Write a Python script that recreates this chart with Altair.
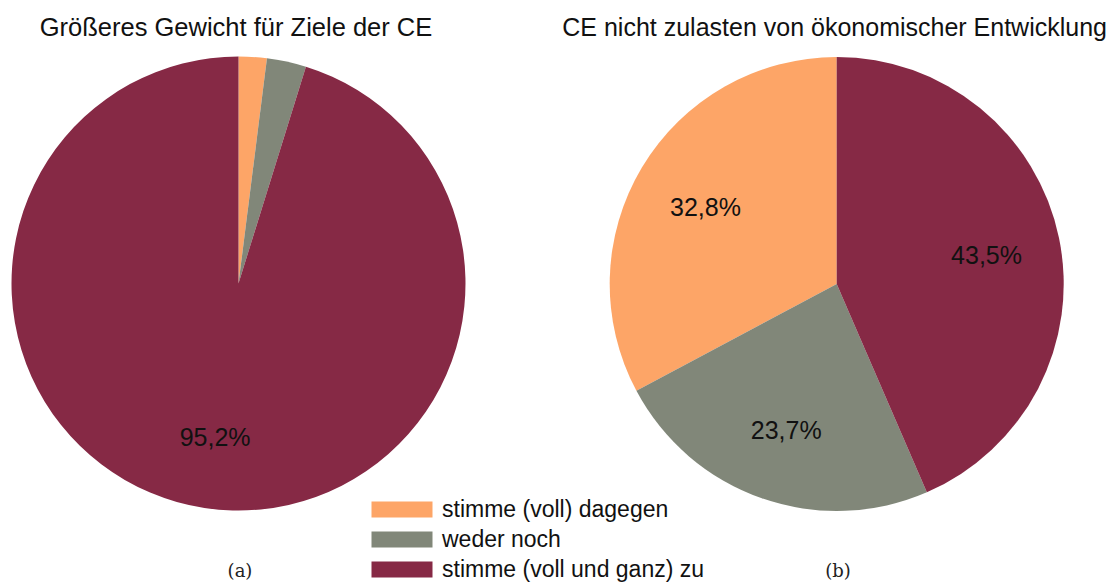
import altair as alt
import pandas as pd

categories = ["stimme (voll) dagegen", "weder noch", "stimme (voll und ganz) zu"]
colors = ["#FDA567", "#818779", "#862945"]

pie_a_values = [2.0, 2.8, 95.2]
pie_b_values = [32.8, 23.7, 43.5]
# clockwise stacking order from 12 o'clock
pie_a_order = [0, 1, 2]
pie_b_order = [2, 1, 0]

titles = ["Größeres Gewicht für Ziele der CE", "CE nicht zulasten von ökonomischer Entwicklung"]
captions = ["(a)", "(b)"]


def fmt(v):
    return (f"{v:.1f}".replace(".", ",") + "%") if v >= 10 else ""


def frame(values, order):
    return pd.DataFrame({
        "category": categories,
        "value": values,
        "order": order,
        "label": [fmt(v) for v in values],
    })


df_a = frame(pie_a_values, pie_a_order)
df_b = frame(pie_b_values, pie_b_order)

FONT = "Liberation Sans"
R = 227
CA = (230.5, 275.5)
CB = (828.7, 276)

color_scale = alt.Scale(domain=categories, range=colors)
legend = alt.Legend(
    orient="none", legendX=360, legendY=490, title=None,
    symbolType="M-1,-1H6.625V1H-1Z", symbolSize=256, symbolStrokeWidth=0,
    labelFont=FONT, labelFontSize=23, labelColor="#111111", labelOffset=51,
    rowPadding=6, padding=0, labelLimit=400,
)
theta_scale = alt.Scale(domain=[0, 100])


def pie(df, c, show_legend):
    base = alt.Chart(df)
    arc = base.mark_arc(radius=R, stroke=None).encode(
        theta=alt.Theta("value:Q", stack=True, scale=theta_scale),
        color=alt.Color("category:N", scale=color_scale,
                        legend=legend if show_legend else None),
        order=alt.Order("order:Q"),
        x=alt.value(c[0]), y=alt.value(c[1]),
    )
    return arc


def labels(df, c, r, dy):
    return alt.Chart(df).mark_text(
        radius=r, font=FONT, fontSize=25, color="#111111", baseline="middle",
        align="center", dy=dy
    ).encode(
        theta=alt.Theta("value:Q", stack=True, scale=theta_scale),
        order=alt.Order("order:Q"),
        detail="category:N",
        text="label:N",
        x=alt.value(c[0]), y=alt.value(c[1]),
    )


title_df = pd.DataFrame({"t": titles})
cap_df = pd.DataFrame({"t": captions})

title_a = alt.Chart(title_df).transform_filter(alt.datum.t == titles[0]).mark_text(
    font=FONT, fontSize=25.5, color="#111111", baseline="alphabetic", align="center"
).encode(text="t:N", x=alt.value(228), y=alt.value(27.5))
title_b = alt.Chart(title_df).transform_filter(alt.datum.t == titles[1]).mark_text(
    font=FONT, fontSize=25, color="#111111", baseline="alphabetic", align="right"
).encode(text="t:N", x=alt.value(1099), y=alt.value(27.5))

cap_a = alt.Chart(cap_df).transform_filter(alt.datum.t == captions[0]).mark_text(
    font="DejaVu Serif", fontSize=18, color="#222222", baseline="middle", align="center"
).encode(text="t:N", x=alt.value(232), y=alt.value(564))
cap_b = alt.Chart(cap_df).transform_filter(alt.datum.t == captions[1]).mark_text(
    font="DejaVu Serif", fontSize=18, color="#222222", baseline="middle", align="center"
).encode(text="t:N", x=alt.value(830), y=alt.value(564))

chart = alt.layer(
    pie(df_a, CA, True), pie(df_b, CB, False),
    labels(df_a, CA, 156, 0), labels(df_b, CB, 153, 3),
    title_a, title_b, cap_a, cap_b,
).properties(
    width=1100, height=575, autosize="none", padding=0
).configure_view(stroke=None)

chart.save("out.html", embed_options={"renderer": "svg", "actions": False})
